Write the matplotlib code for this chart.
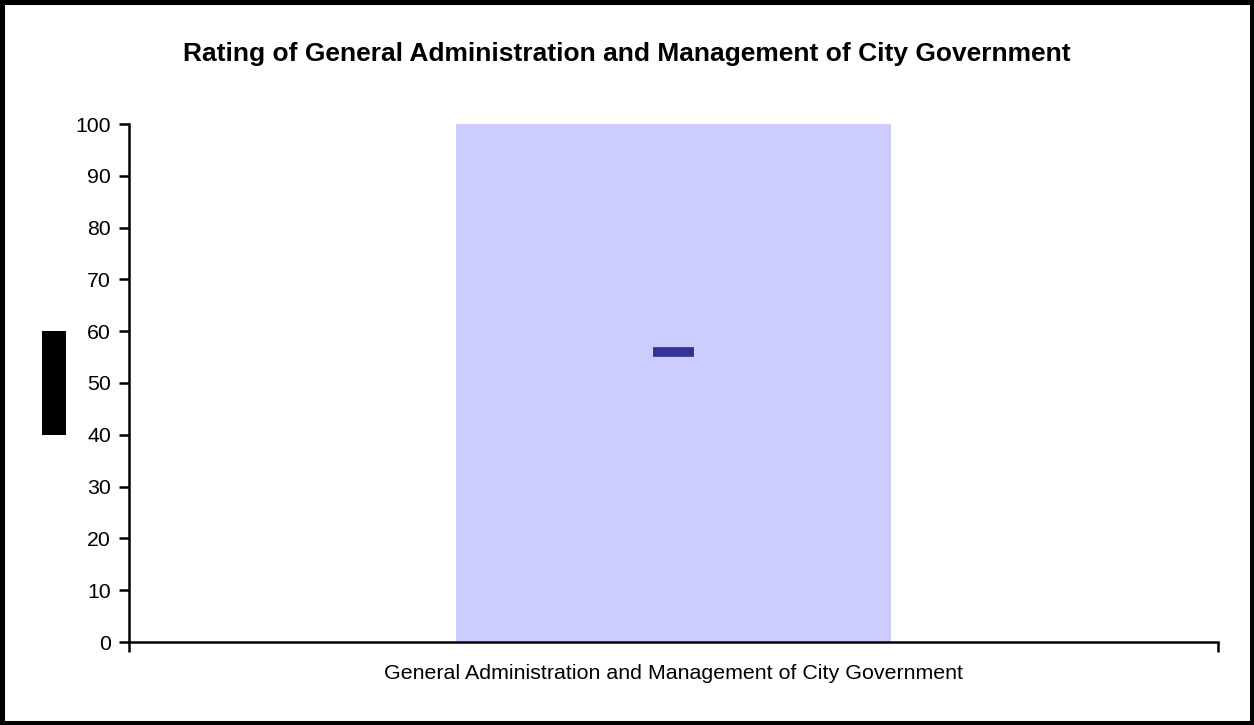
import numpy as np
import matplotlib.pyplot as plt
from matplotlib.patches import Rectangle

plt.rcParams['font.family'] = ['Liberation Sans', 'DejaVu Sans']

# data
categories = ['General Administration and Management of City Government']
bar_top = [100]
mean_rating = [56]
y_ticks = list(range(0, 101, 10))

fig = plt.figure(figsize=(12.54, 7.25), dpi=100)
ax = fig.add_axes([129 / 1254, 1 - 642 / 725, 1089 / 1254, 518 / 725])

x = np.arange(len(categories))
ax.bar(x, bar_top, width=0.4, color='#CCCCFF', zorder=1)
# mean marker as a short thick dash
ax.errorbar(x, mean_rating, xerr=0.019, fmt='none', ecolor='#333399',
            elinewidth=7, capsize=0, zorder=3)

ax.set_xlim(-0.5, 0.5)
ax.set_ylim(0, 100)
ax.set_yticks(y_ticks)
ax.set_xticks([-0.5, 0.5])
ax.set_xticklabels(['', ''])
ax.tick_params(axis='y', labelsize=15.3, length=7, width=1.8, direction='out', pad=6)
ax.tick_params(axis='x', length=7, width=1.8, direction='out')
ax.text(0, -0.042, categories[0], transform=ax.get_xaxis_transform(),
        ha='center', va='top', fontsize=15.4)

for side in ['top', 'right']:
    ax.spines[side].set_visible(False)
for side in ['left', 'bottom']:
    ax.spines[side].set_linewidth(1.8)
ax.patch.set_alpha(0)

fig.suptitle('Rating of General Administration and Management of City Government',
             y=1 - 54 / 725, va='center', fontsize=19, fontweight='bold')

# black box where the y-axis label would be
fig.patches.append(Rectangle((42 / 1254, 1 - 435 / 725), 24 / 1254, 104 / 725,
                             transform=fig.transFigure, facecolor='black',
                             edgecolor='none'))
# border round the figure
fig.patches.append(Rectangle((0, 0), 1, 1,
                             transform=fig.transFigure, facecolor='none',
                             edgecolor='black', linewidth=6.5))

fig.savefig('out.png', dpi=100)
